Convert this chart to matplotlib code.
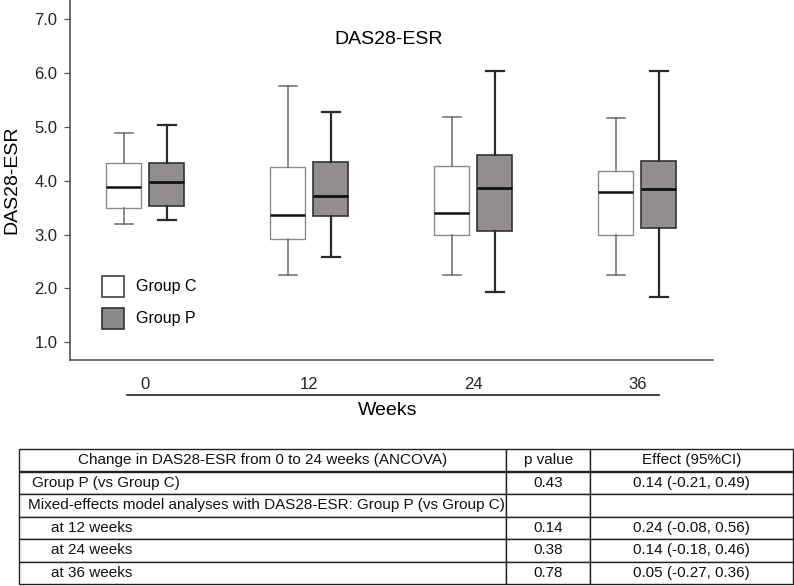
import matplotlib
matplotlib.use("Agg")
import matplotlib.pyplot as plt
from matplotlib.patches import Rectangle

plt.rcParams['font.family'] = ['Liberation Sans', 'DejaVu Sans']

# ---------------- data ----------------
weeks = ["0", "12", "24", "36"]
groups = ["Group C", "Group P"]
# per week: whisker low, Q1, median, Q3, whisker high
c_whislo = [3.20, 2.25, 2.25, 2.25]
c_q1     = [3.50, 2.92, 3.00, 2.99]
c_med    = [3.89, 3.37, 3.40, 3.79]
c_q3     = [4.33, 4.25, 4.27, 4.18]
c_whishi = [4.88, 5.76, 5.18, 5.16]

p_whislo = [3.27, 2.58, 1.94, 1.84]
p_q1     = [3.52, 3.35, 3.06, 3.13]
p_med    = [3.97, 3.71, 3.86, 3.84]
p_q3     = [4.33, 4.35, 4.47, 4.37]
p_whishi = [5.03, 5.28, 6.03, 6.03]

yticks = [1.0, 2.0, 3.0, 4.0, 5.0, 6.0, 7.0]

table_rows = [
    ["Change in DAS28-ESR from 0 to 24 weeks (ANCOVA)", "p value", "Effect (95%CI)"],
    ["Group P (vs Group C)", "0.43", "0.14 (-0.21, 0.49)"],
    ["Mixed-effects model analyses with DAS28-ESR: Group P (vs Group C)", "", ""],
    ["at 12 weeks", "0.14", "0.24 (-0.08, 0.56)"],
    ["at 24 weeks", "0.38", "0.14 (-0.18, 0.46)"],
    ["at 36 weeks", "0.78", "0.05 (-0.27, 0.36)"],
]

# ---------------- figure ----------------
W, H = 794, 586
fig = plt.figure(figsize=(W / 100, H / 100), dpi=100)
ax = fig.add_axes([70 / W, 1 - 360 / H, 642.7 / W, 360 / H])

def stats(lo, q1, med, q3, hi):
    return [dict(whislo=a, q1=b, med=c, q3=d, whishi=e, fliers=[])
            for a, b, c, d, e in zip(lo, q1, med, q3, hi)]

xs = list(range(len(weeks)))
off = 0.131
bw = 0.213
cw = 0.113

c_face, c_edge = "white", "#8a8a8a"
p_face, p_edge = "#928e8d", "#333333"

ax.bxp(stats(c_whislo, c_q1, c_med, c_q3, c_whishi),
       positions=[x - off for x in xs], widths=bw, capwidths=cw,
       patch_artist=True, showfliers=False,
       boxprops=dict(facecolor=c_face, edgecolor=c_edge, linewidth=1.0),
       whiskerprops=dict(color="#6a6a6a", linewidth=1.1),
       capprops=dict(color="#6a6a6a", linewidth=1.1),
       medianprops=dict(color="#111111", linewidth=1.8))

ax.bxp(stats(p_whislo, p_q1, p_med, p_q3, p_whishi),
       positions=[x + off for x in xs], widths=bw, capwidths=cw,
       patch_artist=True, showfliers=False,
       boxprops=dict(facecolor=p_face, edgecolor=p_edge, linewidth=1.2),
       whiskerprops=dict(color="#2a2a2a", linewidth=1.6),
       capprops=dict(color="#2a2a2a", linewidth=1.6),
       medianprops=dict(color="#111111", linewidth=2.0))

ax.set_xlim(-0.460, 3.459)
ax.set_ylim(0.672, 7.351)
ax.set_yticks(yticks)
ax.set_yticklabels([f"{v:.1f}" for v in yticks], fontsize=12, color="#222222")
ax.tick_params(axis="y", length=4, width=0.9, color="#555555", pad=5)
ax.set_xticks(xs)
ax.set_xticklabels(weeks, fontsize=12, color="#222222")
ax.tick_params(axis="x", length=0, pad=12)

for s in ["top", "right"]:
    ax.spines[s].set_visible(False)
for s in ["left", "bottom"]:
    ax.spines[s].set_color("#555555")
    ax.spines[s].set_linewidth(1.2)

ax.set_ylabel("DAS28-ESR", fontsize=14, labelpad=10)
ax.text(0.495, 1 - 40 / 360, "DAS28-ESR", fontsize=14,
        ha="center", va="center", transform=ax.transAxes)

# second line under the week labels, and "Weeks"
ax.plot([-0.113, 3.131], [-0.0986, -0.0986], color="#222222", linewidth=1.2,
        transform=ax.get_xaxis_transform(), clip_on=False)
ax.text(0.495, -0.139, "Weeks", fontsize=14, ha="center", va="center",
        transform=ax.transAxes)

# legend (drawn manually in axes fraction)
def axfx(px):
    return (px - 70) / 642.7

def axfy(py):
    return (360 - py) / 360

leg = [(groups[0], c_face, "#444444", 276.3), (groups[1], "#8a8a8a", "#333333", 308.3)]
for label, fc, ec, top in leg:
    ax.add_patch(Rectangle((axfx(101.7), axfy(top + 20.8)), axfx(124.3) - axfx(101.7),
                           20.8 / 360, transform=ax.transAxes, facecolor=fc,
                           edgecolor=ec, linewidth=1.2, clip_on=False))
    ax.text(axfx(136), axfy(top + 10.4), label, fontsize=11.5, ha="left",
            va="center", transform=ax.transAxes)

# ---------------- table ----------------
tx0, tx1, ty0, ty1 = 19, 792.5, 449, 584
col_w = [506.3 - 19, 590 - 506.3, 792.5 - 590]
tab_ax = fig.add_axes([0, 0, 1, 1])
tab_ax.set_axis_off()
tbl = tab_ax.table(cellText=table_rows, colWidths=[c / sum(col_w) for c in col_w],
                   bbox=[tx0 / W, 1 - ty1 / H, (tx1 - tx0) / W, (ty1 - ty0) / H],
                   cellLoc="center")
tbl.auto_set_font_size(False)
tbl.set_fontsize(11)
pads = {1: (31.7 - 19) / col_w[0], 2: (28.3 - 19) / col_w[0],
        3: (50.7 - 19) / col_w[0], 4: (50.7 - 19) / col_w[0], 5: (50.7 - 19) / col_w[0]}
for (r, c), cell in tbl.get_celld().items():
    cell.set_edgecolor("#222222")
    cell.set_linewidth(1.0)
    cell.get_text().set_color("#111111")
    cell.get_text().set_clip_on(False)
    if c == 0 and r in pads:
        cell.get_text().set_horizontalalignment("left")
        cell.PAD = pads[r]

fig.savefig("out.png", dpi=100)
